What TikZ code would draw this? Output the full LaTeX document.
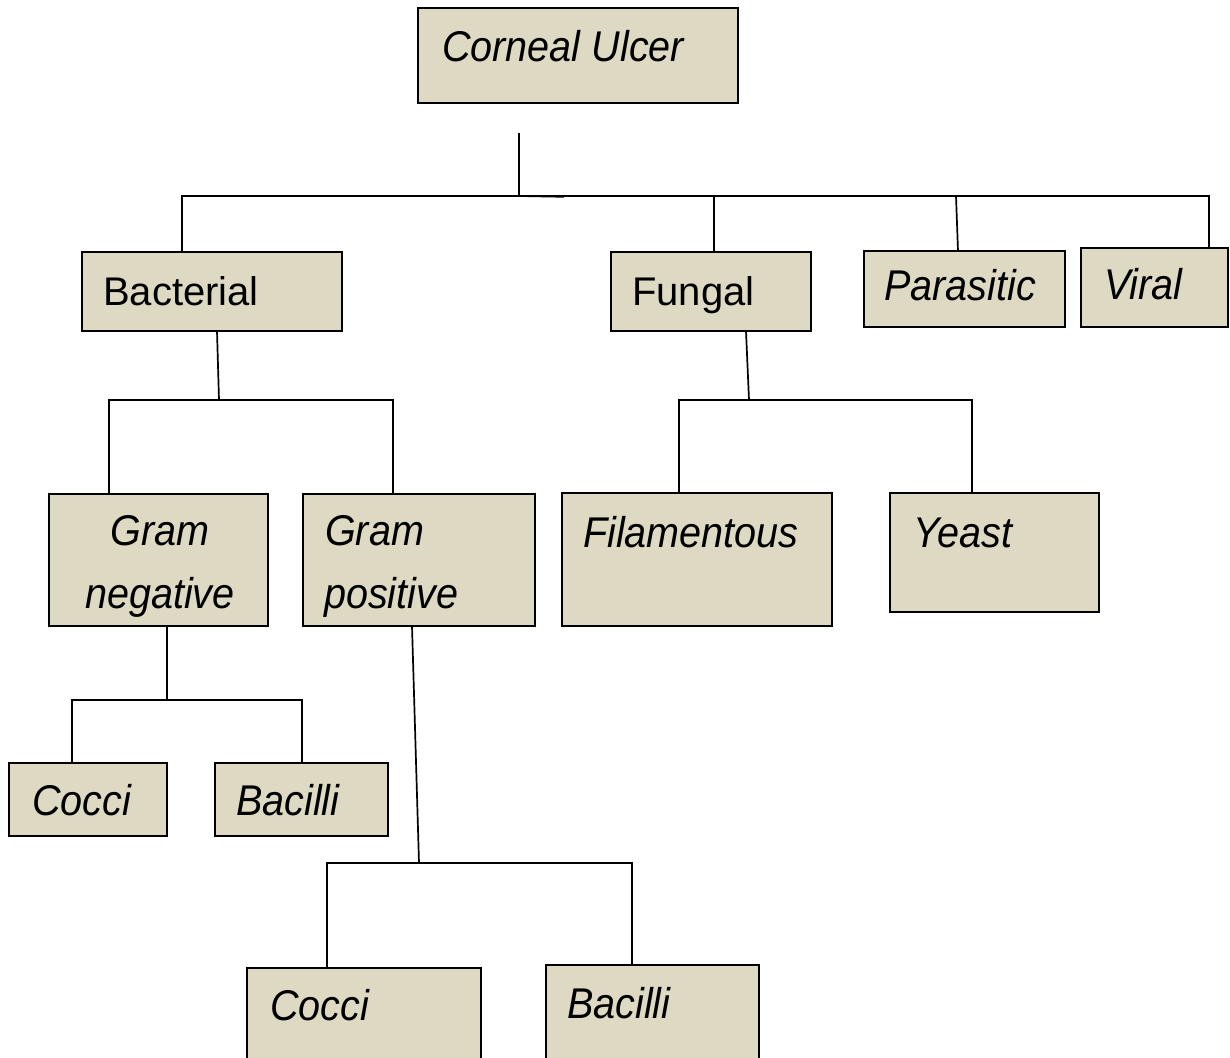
\documentclass[tikz,border=0pt]{standalone}
\usepackage{fontspec}
\setmainfont{Liberation Sans}
\newfontfamily\itf[FakeStretch=0.92]{Liberation Sans}
\definecolor{boxfill}{HTML}{DDD9C3}
\begin{document}
\begin{tikzpicture}[x=1pt,y=-1pt,
  box/.style={draw=black, line width=1.7pt, fill=boxfill, inner sep=0pt, outer sep=0pt, anchor=north west},
  itlbl/.style={inner sep=0pt, anchor=base west, font=\itf\itshape\fontsize{43}{50}\selectfont},
  uplbl/.style={inner sep=0pt, anchor=base west, font=\fontsize{40}{48}\selectfont},
  conn/.style={draw=black, line width=1.7pt}]
\useasboundingbox (0,0) rectangle (1230,1057);
\clip (0,0) rectangle (1230,1057);
% boxes
\node[box, minimum width=320pt, minimum height=95pt] (root) at (418,8) {};
\node[box, minimum width=260pt, minimum height=79pt] (bact) at (82,252) {};
\node[box, minimum width=200pt, minimum height=79pt] (fung) at (611,252) {};
\node[box, minimum width=201pt, minimum height=76pt] (para) at (864,251) {};
\node[box, minimum width=147pt, minimum height=79pt] (viral) at (1081,248) {};
\node[box, minimum width=219pt, minimum height=132pt] (gneg) at (49,494) {};
\node[box, minimum width=232pt, minimum height=132pt] (gpos) at (303,494) {};
\node[box, minimum width=270pt, minimum height=133pt] (fil) at (562,493) {};
\node[box, minimum width=209pt, minimum height=119pt] (yeast) at (890,493) {};
\node[box, minimum width=158pt, minimum height=73pt] (coc1) at (9,763) {};
\node[box, minimum width=173pt, minimum height=73pt] (bac1) at (215,763) {};
\node[box, minimum width=234pt, minimum height=110pt] (coc2) at (247,968) {};
\node[box, minimum width=213pt, minimum height=113pt] (bac2) at (546,965) {};
% labels
\node[itlbl] (troot) at (442,62) {Corneal Ulcer};
\node[uplbl] (tbact) at (103,305) {Bacterial};
\node[uplbl] (tfung) at (632,305) {Fungal};
\node[itlbl] (tpara) at (884,300) {Parasitic};
\node[itlbl] (tviral) at (1104,299) {Viral};
\node[itlbl, anchor=base] (tgneg1) at (160,545) {Gram};
\node[itlbl, anchor=base] (tgneg2) at (160,608) {negative};
\node[itlbl] (tgpos1) at (325,545) {Gram};
\node[itlbl] (tgpos2) at (324,608) {positive};
\node[itlbl] (tfil) at (583,547) {Filamentous};
\node[itlbl] (tyeast) at (913,547) {Yeast};
\node[itlbl] (tcoc1) at (32,815) {Cocci};
\node[itlbl] (tbac1) at (236,815) {Bacilli};
\node[itlbl] (tcoc2) at (270,1020) {Cocci};
\node[itlbl] (tbac2) at (567,1018) {Bacilli};
% junction coordinates
\coordinate (s0) at (519,133);
\coordinate (j0) at (519,196);
\coordinate (jb) at (219,400);
\coordinate (jf) at (749,400);
\coordinate (jn) at (167,700);
\coordinate (jp) at (419,863);
% connectors
\draw[conn] (s0) -- (j0);
\draw[conn] (j0) -- ++(45,0.8);
\draw[conn] (bact.north -| 182,0) -- (182,196) -- (1209,196) -- (viral.north -| 1209,0);
\draw[conn] (714,196) -- (fung.north -| 714,0);
\draw[conn] (956,196) -- (para.north -| 958,0);
\draw[conn] (bact.south -| 217,0) -- (jb);
\draw[conn] (gneg.north -| 109,0) -- (109,400) -- (393,400) -- (gpos.north -| 393,0);
\draw[conn] (fung.south -| 746,0) -- (jf);
\draw[conn] (fil.north -| 679,0) -- (679,400) -- (972,400) -- (yeast.north -| 972,0);
\draw[conn] (gneg.south -| 167,0) -- (jn);
\draw[conn] (coc1.north -| 72,0) -- (72,700) -- (302,700) -- (bac1.north -| 302,0);
\draw[conn] (gpos.south -| 412,0) -- (jp);
\draw[conn] (coc2.north -| 327,0) -- (327,863) -- (632,863) -- (bac2.north -| 632,0);
\end{tikzpicture}
\end{document}
